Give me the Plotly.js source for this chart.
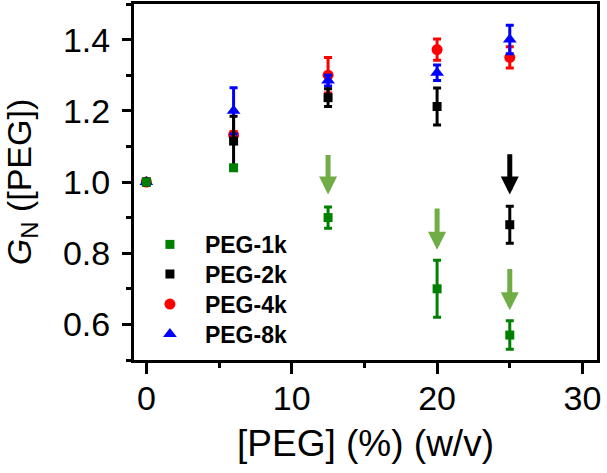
<!DOCTYPE html>
<html>
<head>
<meta charset="utf-8">
<script src="https://cdn.plot.ly/plotly-3.0.1.min.js"></script>
<style>html,body{margin:0;padding:0;background:#fff;}#chart{width:607px;height:473px;}</style>
</head>
<body>
<div id="chart"></div>
<script>
// PEG concentration (% w/v)
const peg1kX = [0, 6, 12.5, 20, 25];
const peg1kY = [1.00, 1.04, 0.90, 0.70, 0.57];
const peg1kErr = [0.005, 0.005, 0.03, 0.08, 0.04];

const peg2kX = [0, 6, 12.5, 20, 25];
const peg2kY = [1.00, 1.115, 1.237, 1.212, 0.88];
const peg2kErr = [0.005, 0.07, 0.025, 0.052, 0.052];

const peg4kX = [0, 6, 12.5, 20, 25];
const peg4kY = [1.00, 1.132, 1.30, 1.372, 1.35];
const peg4kErr = [0.005, 0.01, 0.05, 0.03, 0.03];

const peg8kX = [0, 6, 12.5, 20, 25];
const peg8kY = [1.00, 1.20, 1.285, 1.307, 1.40];
const peg8kErr = [0.005, 0.065, 0.015, 0.022, 0.04];

const seriesNames = ["PEG-1k", "PEG-2k", "PEG-4k", "PEG-8k"];

// downward arrows: x, tail value, tip value
const arrowX = [12.5, 20, 25, 25];
const arrowTail = [1.08, 0.93, 0.76, 1.082];
const arrowTip = [0.965, 0.81, 0.64, 0.965];
const arrowKind = ["1k", "1k", "1k", "2k"];

const FONT = "Arial, 'Liberation Sans', sans-serif";
const colors = {"1k": "#008000", "2k": "#000000", "4k": "#FF0000", "8k": "#0000FF"};
const arrowColors = {"1k": "#70AD47", "2k": "#000000"};

function tr(x, y, err, name, color, symbol, size, legendId) {
  return {
    type: "scatter", mode: "markers", x: x, y: y, name: name,
    legend: legendId,
    marker: {color: color, symbol: symbol, size: size, line: {width: 0}},
    error_y: {type: "data", array: err, visible: true, color: color, thickness: 3, width: 4}
  };
}

const data = [
  tr(peg4kX, peg4kY, peg4kErr, seriesNames[2], colors["4k"], "circle", 11, "legend3"),
  tr(peg8kX, peg8kY, peg8kErr, seriesNames[3], colors["8k"], "triangle-up", 12, "legend4"),
  tr(peg2kX, peg2kY, peg2kErr, seriesNames[1], colors["2k"], "square", 9, "legend2"),
  tr(peg1kX, peg1kY, peg1kErr, seriesNames[0], colors["1k"], "square", 9, "legend")
];

const annotations = arrowX.map((x, i) => ({
  x: x, y: arrowTip[i], ax: x, ay: arrowTail[i],
  xref: "x", yref: "y", axref: "x", ayref: "y",
  showarrow: true, arrowhead: 2, arrowsize: 0.72, arrowwidth: 5,
  arrowcolor: arrowColors[arrowKind[i]], text: ""
}));

const axisCommon = {
  showline: true, mirror: true, linewidth: 3, linecolor: "#000",
  ticks: "outside", tickwidth: 3, tickcolor: "#000",
  showgrid: false, zeroline: false,
  tickfont: {family: FONT, size: 34, color: "#000"}
};

function leg(y) {
  return {
    x: 0.002, y: y, xanchor: "left", yanchor: "top",
    bgcolor: "rgba(0,0,0,0)", borderwidth: 0, itemwidth: 60,
    font: {family: FONT, size: 23, color: "#000", weight: "bold"}
  };
}

const layout = {
  width: 607, height: 473,
  margin: {l: 134, r: 10, t: 4, b: 113},
  paper_bgcolor: "#fff", plot_bgcolor: "#fff",
  font: {family: FONT, color: "#000"},
  showlegend: true,
  legend: leg(0.385),
  legend2: leg(0.3015),
  legend3: leg(0.2175),
  legend4: leg(0.1335),
  xaxis: Object.assign({}, axisCommon, {
    range: [-0.85, 31], tickmode: "linear", tick0: 0, dtick: 10, ticklen: 11,
    ticklabelstandoff: -5,
    minor: {dtick: 5, tick0: 0, ticks: "outside", ticklen: 5, tickwidth: 3, tickcolor: "#000"},
    title: {text: "[PEG] (%) (w/v)", font: {family: FONT, size: 37, color: "#000"}, standoff: 15}
  }),
  yaxis: Object.assign({}, axisCommon, {
    range: [0.5, 1.5], tickmode: "linear", tick0: 0.6, dtick: 0.2, ticklen: 9,
    tickformat: ".1f", ticklabelstandoff: 5,
    minor: {dtick: 0.1, tick0: 0.5, ticks: "outside", ticklen: 5, tickwidth: 3, tickcolor: "#000"},
    title: {text: "<i>G</i><sub>N</sub> ([PEG])", font: {family: FONT, size: 34, color: "#000"}, standoff: 26}
  }),
  annotations: annotations
};

Plotly.newPlot("chart", data, layout, {staticPlot: true, displayModeBar: false});
</script>
</body>
</html>
